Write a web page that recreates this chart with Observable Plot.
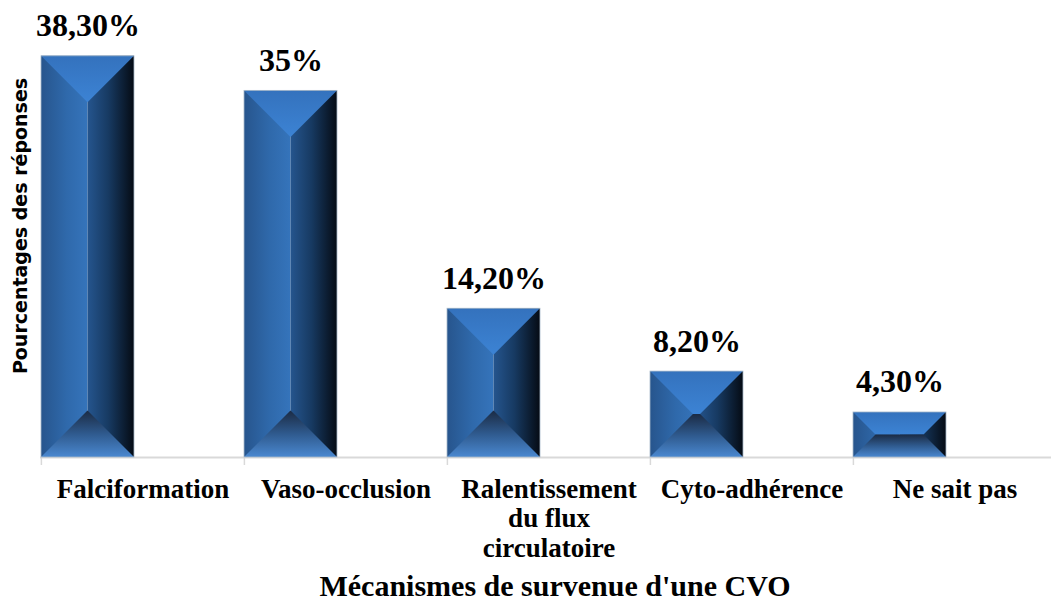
<!DOCTYPE html>
<html>
<head>
<meta charset="utf-8">
<script src="https://cdn.jsdelivr.net/npm/d3@7"></script>
<script src="https://cdn.jsdelivr.net/npm/@observablehq/plot@0.6"></script>
<style>
  html, body { margin: 0; padding: 0; background: #ffffff; }
  svg { display: block; }
</style>
</head>
<body>
<div id="chart"></div>
<script>
const categories = ["Falciformation", "Vaso-occlusion", "Ralentissement du flux circulatoire", "Cyto-adhérence", "Ne sait pas"];
const tickLabels = ["Falciformation", "Vaso-occlusion", "Ralentissement\ndu flux\ncirculatoire", "Cyto-adhérence", "Ne sait pas"];
const values = [38.3, 35, 14.2, 8.2, 4.3];
const valueLabels = ["38,30%", "35%", "14,20%", "8,20%", "4,30%"];
const xTitle = "Mécanismes de survenue d'une CVO";
const yTitle = "Pourcentages des réponses";

const data = categories.map((c, i) => ({cat: c, label: tickLabels[i], value: values[i], text: valueLabels[i]}));

const serif = "'Liberation Serif', 'Times New Roman', serif";

const svg = Plot.plot({
  width: 1051,
  height: 605,
  marginTop: 38,
  marginBottom: 148,
  marginLeft: 40,
  marginRight: 0,
  style: {background: "#ffffff"},
  x: {domain: categories, range: [40, 1056], padding: 0, axis: null},
  y: {domain: [0, 40], axis: null},
  marks: [
    Plot.ruleY([0], {stroke: "#d9d9d9", strokeWidth: 2}),
    Plot.ruleX(data, {x: "cat", y1: 0, y2: 0, dx: -101.6, insetBottom: -8, stroke: "#d9d9d9", strokeWidth: 1.5}),
    Plot.barY(data, {x: "cat", y: "value", insetRight: 110, fill: "#2f6aad"}),
    Plot.text(data, {x: "cat", y: "value", text: "text", dx: -55, dy: -20, lineAnchor: "bottom",
      fontSize: 32, fontWeight: "bold", fontFamily: serif, fill: "#000"}),
    Plot.text(data, {x: "cat", text: "label", frameAnchor: "bottom", lineAnchor: "top", dy: 20, lineHeight: 1.08,
      fontSize: 27, fontWeight: "bold", fontFamily: serif, fill: "#000"}),
    Plot.text([xTitle], {frameAnchor: "bottom", lineAnchor: "bottom", dy: 138, dx: 9,
      fontSize: 30, fontWeight: "bold", fontFamily: serif, fill: "#000"}),
    Plot.text([yTitle], {frameAnchor: "left", textAnchor: "middle", rotate: -90, dx: -20, dy: -22,
      fontSize: 19, fontWeight: "bold", fontFamily: "'DejaVu Sans', sans-serif", fill: "#000"})
  ]
});

// Bevel styling built from the rendered bar rects (positions come from Plot's scales)
const NS = "http://www.w3.org/2000/svg";
const defs = document.createElementNS(NS, "defs");
function grad(id, vertical, stops) {
  const g = document.createElementNS(NS, "linearGradient");
  g.setAttribute("id", id);
  g.setAttribute("x1", "0"); g.setAttribute("y1", "0");
  g.setAttribute("x2", vertical ? "0" : "1"); g.setAttribute("y2", vertical ? "1" : "0");
  for (const [o, c] of stops) {
    const s = document.createElementNS(NS, "stop");
    s.setAttribute("offset", o); s.setAttribute("stop-color", c);
    g.appendChild(s);
  }
  defs.appendChild(g);
}
grad("gLeft", false, [[0, "#27558d"], [0.55, "#2f69ab"], [1, "#3574bb"]]);
grad("gRight", false, [[0, "#25558e"], [0.45, "#173a62"], [1, "#050b14"]]);
grad("gTop", true, [[0, "#3472bd"], [1, "#3c83d4"]]);
grad("gBottom", true, [[0, "#1b2b44"], [0.5, "#2f5a8e"], [1, "#4a88d0"]]);
svg.insertBefore(defs, svg.firstChild);

function poly(parent, pts, fill) {
  const p = document.createElementNS(NS, "polygon");
  p.setAttribute("points", pts.map(q => q.join(",")).join(" "));
  p.setAttribute("fill", fill);
  parent.appendChild(p);
}
svg.querySelectorAll('g[aria-label="bar"] rect').forEach(r => {
  const x = +r.getAttribute("x"), y = +r.getAttribute("y");
  const w = +r.getAttribute("width"), h = +r.getAttribute("height");
  const d = Math.min(w / 2, h / 2), cx = x + w / 2;
  const g = document.createElementNS(NS, "g");
  poly(g, [[x, y], [cx, y], [cx, y + h], [x, y + h]], "url(#gLeft)");
  poly(g, [[cx, y], [x + w, y], [x + w, y + h], [cx, y + h]], "url(#gRight)");
  poly(g, [[x, y], [x + w, y], [x + w - d, y + d], [x + d, y + d]], "url(#gTop)");
  poly(g, [[x, y + h], [x + w, y + h], [x + w - d, y + h - d], [x + d, y + h - d]], "url(#gBottom)");
  const o = document.createElementNS(NS, "rect");
  o.setAttribute("x", x); o.setAttribute("y", y); o.setAttribute("width", w); o.setAttribute("height", h);
  o.setAttribute("fill", "none"); o.setAttribute("stroke", "#a9bacb"); o.setAttribute("stroke-width", "0.8");
  g.appendChild(o);
  r.parentNode.insertBefore(g, r);
  r.setAttribute("fill-opacity", "0");
});

document.getElementById("chart").appendChild(svg);
</script>
</body>
</html>
